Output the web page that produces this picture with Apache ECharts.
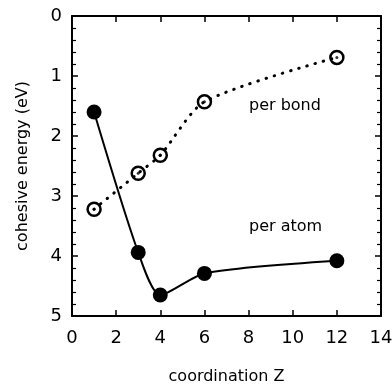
<!DOCTYPE html>
<html>
<head>
<meta charset="utf-8">
<script src="https://cdn.jsdelivr.net/npm/echarts@6/dist/echarts.min.js"></script>
<style>
  html, body { margin: 0; padding: 0; background: #fff; }
  #chart { width: 392px; height: 385px; }
</style>
</head>
<body>
<div id="chart"></div>
<script>
var coordination = [1, 3, 4, 6, 12];
var perAtom = [1.6, 3.94, 4.65, 4.29, 4.08];
var perBond = [3.22, 2.62, 2.32, 1.43, 0.69];

function pairs(xs, ys) {
    return xs.map(function (x, i) { return [x, ys[i]]; });
}

var chart = echarts.init(document.getElementById('chart'));
var font = '"DejaVu Sans", Verdana, sans-serif';

var tickCommon = {
    axisLine: {show: true, onZero: false, lineStyle: {color: '#000', width: 2}},
    axisTick: {show: true, inside: true, length: 6, lineStyle: {color: '#000', width: 1.5}},
    splitLine: {show: false}
};

var option = {
    animation: false,
    grid: {left: 72, right: 11, top: 16, bottom: 69, outerBoundsMode: 'none', containLabel: false},
    xAxis: [
        Object.assign({
            type: 'value', min: 0, max: 14, interval: 2, position: 'bottom',
            name: 'coordination Z', nameLocation: 'middle', nameGap: 53,
            nameTextStyle: {fontFamily: font, fontSize: 16, color: '#000'},
            axisLabel: {fontFamily: font, fontSize: 18, color: '#000', margin: 13}
        }, tickCommon),
        Object.assign({
            type: 'value', min: 0, max: 14, interval: 2, position: 'top',
            axisLabel: {show: false}
        }, tickCommon)
    ],
    yAxis: [
        Object.assign({
            type: 'value', min: 0, max: 5, interval: 1, inverse: true, position: 'left',
            name: 'cohesive energy (eV)', nameLocation: 'middle', nameGap: 41,
            nameTextStyle: {fontFamily: font, fontSize: 16, color: '#000'},
            axisLabel: {fontFamily: font, fontSize: 18, color: '#000', margin: 10},
            minorTick: {show: true, splitNumber: 5, length: 4, lineStyle: {color: '#000', width: 1.2}}
        }, tickCommon),
        Object.assign({
            type: 'value', min: 0, max: 5, interval: 1, inverse: true, position: 'right',
            axisLabel: {show: false},
            minorTick: {show: true, splitNumber: 5, length: 4, lineStyle: {color: '#000', width: 1.2}}
        }, tickCommon)
    ],
    graphic: [
        {type: 'text', left: 249, top: 98, style: {text: 'per bond', font: '16px ' + font, fill: '#000'}},
        {type: 'text', left: 249, top: 219, style: {text: 'per atom', font: '16px ' + font, fill: '#000'}}
    ],
    series: [
        {
            name: 'per atom',
            type: 'line',
            data: pairs(coordination, perAtom),
            smooth: 0.25,
            symbol: 'circle',
            symbolSize: 15,
            itemStyle: {color: '#000'},
            lineStyle: {color: '#000', width: 2}
        },
        {
            name: 'per bond',
            type: 'line',
            data: pairs(coordination, perBond),
            smooth: 0.25,
            symbol: 'circle',
            symbolSize: 13,
            itemStyle: {color: 'rgba(0,0,0,0)', borderColor: '#000', borderWidth: 2.5},
            lineStyle: {color: '#000', width: 3, type: [0.5, 8], cap: 'round'}
        },
        {
            name: 'per bond centre',
            type: 'scatter',
            data: pairs(coordination, perBond),
            symbol: 'circle',
            symbolSize: 3,
            itemStyle: {color: '#000'}
        }
    ]
};

chart.setOption(option);
</script>
</body>
</html>
